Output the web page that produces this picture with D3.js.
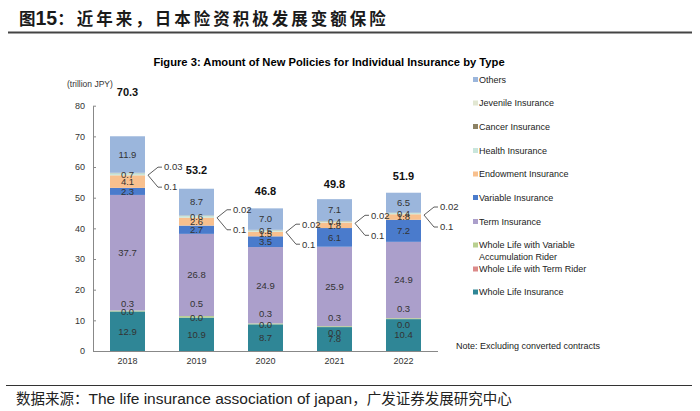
<!DOCTYPE html>
<html><head><meta charset="utf-8">
<script src="https://cdn.jsdelivr.net/npm/d3@7/dist/d3.min.js"></script>
<style>
html,body{margin:0;padding:0;background:#fff;}
svg{display:block;}
</style></head>
<body>
<script>
// ---- data ----
const years = ["2018","2019","2020","2021","2022"];
const totals = [70.3, 53.2, 46.8, 49.8, 51.9];
const wholeLife      = [12.9, 10.9, 8.7, 7.8, 10.4];
const wlTermRider    = [0.0, 0.0, 0.0, 0.0, 0.0];
const wlVarAccum     = [0.3, 0.5, 0.3, 0.3, 0.3];
const termIns        = [37.7, 26.8, 24.9, 25.9, 24.9];
const variableIns    = [2.3, 2.7, 3.5, 6.1, 7.2];
const endowment      = [4.1, 2.6, 1.5, 1.8, 1.8];
const health         = [0.7, 0.6, 0.5, 0.4, 0.4];
const cancer         = [0.1, 0.1, 0.1, 0.1, 0.1];
const juvenile       = [0.03, 0.02, 0.02, 0.02, 0.02];
const others         = [11.9, 8.7, 7.0, 7.1, 6.5];
const yTicks = [0,10,20,30,40,50,60,70,80];

const seriesNames = ["Whole Life Insurance","Whole Life with Term Rider","Whole Life with Variable Accumulation Rider","Term Insurance","Variable Insurance","Endowment Insurance","Health Insurance","Cancer Insurance","Jevenile Insurance","Others"];
const seriesVals = [wholeLife, wlTermRider, wlVarAccum, termIns, variableIns, endowment, health, cancer, juvenile, others];
const colors = ["#2f8696","#dc8a8a","#b9d090","#ab9fcb","#4a7bcc","#f8c08e","#c9e6dc","#8c8264","#e2e7d2","#9bb6dc"];

// ---- layout ----
const W = 700, H = 411;
const svg = d3.select("body").append("svg").attr("width", W).attr("height", H);
svg.append("rect").attr("width", W).attr("height", H).attr("fill", "#fff");
const font = "'Liberation Sans', Arial, sans-serif";

// header
const t = svg.append("text").attr("x", 19).attr("y", 25).attr("font-family", "'Noto Sans CJK SC', sans-serif")
  .attr("font-weight", "bold").attr("font-size", 16.5).attr("fill", "#1a1a1a");
t.append("tspan").text("图");
t.append("tspan").attr("font-family", font).attr("font-size", 19.5).text("15");
t.append("tspan").attr("letter-spacing", 3).text("：近年来，日本险资积极发展变额保险");
svg.append("line").attr("x1", 8).attr("x2", 692).attr("y1", 32.5).attr("y2", 32.5).attr("stroke", "#444").attr("stroke-width", 2);

// footer
svg.append("line").attr("x1", 6).attr("x2", 692).attr("y1", 385.5).attr("y2", 385.5).attr("stroke", "#333").attr("stroke-width", 1.2);
const ft = svg.append("text").attr("x", 16).attr("y", 404).attr("font-family", "'Noto Sans CJK SC', sans-serif")
  .attr("font-size", 14.5).attr("fill", "#222");
ft.append("tspan").text("数据来源：");
ft.append("tspan").attr("font-family", font).attr("font-size", 15.5).text("The life insurance association of japan");
ft.append("tspan").text("，广发证券发展研究中心");

// chart title
svg.append("text").attr("x", 329).attr("y", 66).attr("text-anchor", "middle").attr("font-family", font)
  .attr("font-weight", "bold").attr("font-size", 11.2).attr("fill", "#000")
  .text("Figure 3: Amount of New Policies for Individual Insurance by Type");
svg.append("text").attr("x", 67).attr("y", 87).attr("font-family", font).attr("font-size", 8.5).attr("fill", "#333")
  .text("(trillion JPY)");

const x = d3.scaleBand().domain(years).range([93, 438]).paddingInner(0.493).paddingOuter(0.2465);
const y = d3.scaleLinear().domain([0, 80]).range([351, 105.7]);

// axes
const ya = svg.append("g").attr("transform", "translate(93,0)")
  .call(d3.axisLeft(y).tickValues(yTicks).tickSizeInner(-3).tickSizeOuter(0).tickPadding(8));
ya.select(".domain").attr("stroke", "#888");
ya.selectAll(".tick line").attr("stroke", "#888");
ya.selectAll("text").attr("font-family", font).attr("font-size", 9).attr("fill", "#333");

const xa = svg.append("g").attr("transform", "translate(0,351)")
  .call(d3.axisBottom(x).tickSize(0).tickPadding(7));
xa.select(".domain").attr("stroke", "#888").attr("d", "M93,0.5H438");
xa.selectAll("text").attr("font-family", font).attr("font-size", 9).attr("fill", "#333");

// stack
const table = years.map((yr, i) => {
  const o = {year: yr};
  seriesNames.forEach((s, k) => o[s] = seriesVals[k][i]);
  return o;
});
const stack = d3.stack().keys(seriesNames)(table);

svg.append("g").selectAll("g").data(stack).join("g").attr("fill", (d, k) => colors[k])
  .selectAll("rect").data(d => d).join("rect")
  .attr("x", d => x(d.data.year)).attr("width", x.bandwidth())
  .attr("y", d => y(d[1])).attr("height", d => Math.max(0, y(d[0]) - y(d[1])));

// segment labels
const termRiderNudge = [0, 0, 0, 6, 6];
const varAccumNudge = [-7, -13, -10, -9, -10];
const lab = svg.append("g").attr("font-family", font).attr("font-size", 9.5).attr("fill", "#333").attr("text-anchor", "middle");
stack.forEach((ser, k) => {
  if (k === 7 || k === 8) return;
  ser.forEach((d, i) => {
    let yy = (y(d[0]) + y(d[1])) / 2;
    if (k === 1) yy += termRiderNudge[i];
    if (k === 2) yy += varAccumNudge[i];
    lab.append("text").attr("x", x(d.data.year) + x.bandwidth() / 2).attr("y", yy).attr("dy", "0.35em")
      .text(d3.format(".1f")(seriesVals[k][i]));
  });
});

// callouts for cancer / juvenile
const cal = svg.append("g");
years.forEach((yr, i) => {
  const d = stack[7][i];
  const yc = y(d[0]) + 2;
  const x0 = x(yr) + x.bandwidth() + 3;
  const up = yc - 8, dn = yc + 12;
  cal.append("path").attr("fill", "none").attr("stroke", "#333").attr("stroke-width", 0.8)
    .attr("d", `M${x0 + 14},${up}H${x0 + 10}L${x0},${yc}L${x0 + 10},${dn}H${x0 + 14}`);
  cal.append("text").attr("x", x0 + 16).attr("y", up).attr("dy", "0.35em").attr("font-family", font)
    .attr("font-size", 9.5).attr("fill", "#333").text(String(juvenile[i]));
  cal.append("text").attr("x", x0 + 16).attr("y", dn).attr("dy", "0.35em").attr("font-family", font)
    .attr("font-size", 9.5).attr("fill", "#333").text(String(cancer[i]));
});

// totals
const totalLift = [40, 15, 13, 11, 13];
svg.append("g").selectAll("text").data(years).join("text")
  .attr("x", d => x(d) + x.bandwidth() / 2)
  .attr("y", (d, i) => y(d3.sum(seriesVals, s => s[i])) - totalLift[i])
  .attr("text-anchor", "middle").attr("font-family", font).attr("font-weight", "bold")
  .attr("font-size", 11).attr("fill", "#111").text((d, i) => totals[i].toFixed(1));

// legend (top to bottom)
const legendOrder = [9, 8, 7, 6, 5, 4, 3, 2, 1, 0];
const legendY = [79.5, 103, 126.5, 150.5, 174, 197.5, 221.5, 245, 269, 292];
const lg = svg.append("g").attr("font-family", font).attr("font-size", 9).attr("fill", "#222");
legendOrder.forEach((k, j) => {
  lg.append("rect").attr("x", 473).attr("y", legendY[j] - 2.5).attr("width", 5).attr("height", 5).attr("fill", colors[k]);
  if (k === 2) {
    lg.append("text").attr("x", 479).attr("y", legendY[j]).attr("dy", "0.35em").text("Whole Life with Variable");
    lg.append("text").attr("x", 479).attr("y", legendY[j] + 11.5).attr("dy", "0.35em").text("Accumulation Rider");
  } else {
    lg.append("text").attr("x", 479).attr("y", legendY[j]).attr("dy", "0.35em").text(seriesNames[k]);
  }
});
svg.append("text").attr("x", 456).attr("y", 346).attr("dy", "0.35em").attr("font-family", font)
  .attr("font-size", 9).attr("fill", "#222").text("Note: Excluding converted contracts");
</script>
</body></html>
